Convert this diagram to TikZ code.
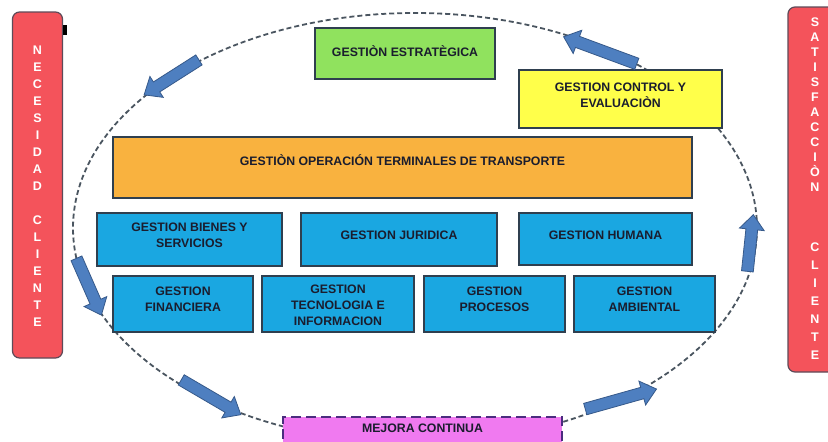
\documentclass[tikz,border=0pt]{standalone}
\usepackage{fontspec}
\setmainfont{Liberation Sans}
\usetikzlibrary{shapes.arrows}
\definecolor{barred}{HTML}{F4535B}
\definecolor{barline}{HTML}{5E4A58}
\definecolor{boxline}{HTML}{2F3F4F}
\definecolor{boxtext}{HTML}{1A1D2E}
\definecolor{greenbox}{HTML}{90E25E}
\definecolor{yellowbox}{HTML}{FFFF4A}
\definecolor{orangebox}{HTML}{F9B23F}
\definecolor{bluebox}{HTML}{1AA7E1}
\definecolor{pinkbox}{HTML}{F07AF0}
\definecolor{pinkline}{HTML}{4B2C7F}
\definecolor{arrowfill}{HTML}{4E7FC0}
\definecolor{arrowline}{HTML}{36598A}
\definecolor{ringline}{HTML}{4A5560}
\begin{document}
\begin{tikzpicture}[x=1pt,y=-1pt,
  box/.style={draw=boxline, line width=1.3pt, inner sep=0pt},
  lbl/.style={align=center, text=boxtext, font=\fontsize{12.3}{16}\selectfont\bfseries, inner sep=0pt},
  bar/.style={draw=barline, fill=barred, rounded corners=7pt, line width=1.2pt, inner sep=0pt},
  barletter/.style={text=white, font=\fontsize{12.5}{14}\selectfont\bfseries, inner sep=0pt, text height=9pt, text depth=0pt},
  blk/.style={single arrow, draw=arrowline, fill=arrowfill, line width=0.8pt, inner sep=5.5pt,
    single arrow head extend=6.5pt, single arrow tip angle=80}
]
\clip (0,0) rectangle (828,442);
\fill[white] (0,0) rectangle (828,442);

% side bars
\node[bar, minimum width=50pt, minimum height=346pt] (necesidad) at (37.5,185) {};
\node[bar, minimum width=62pt, minimum height=365pt] (satisfaccion) at (819,189.5) {};
\fill[black] (63,25) rectangle (67,35);
\foreach \l/\y [count=\i] in {N/50,E/67,C/84,E/101,S/118,I/135,D/152,A/169,D/186,C/220,L/237,I/254,E/271,N/288,T/305,E/322}
  \node[barletter] (nl\i) at (37.5,\y) {\l};
\foreach \l/\y [count=\i] in {S/22,A/37,T/52,I/67,S/82,F/97,A/112,C/127,C/142,I/157,Ò/172,N/187,C/247,L/265,I/283,E/301,N/319,T/337,E/355}
  \node[barletter] (sl\i) at (815,\y) {\l};

% dashed ring
\draw[ringline, line width=1.8pt, dash pattern=on 5pt off 3pt] (415,228) ellipse [x radius=342pt, y radius=215pt];

% boxes
\node[box, fill=greenbox, minimum width=180pt, minimum height=51pt] (strat) at (405,53.5) {};
\node[lbl] (tstrat) at ([yshift=2.5pt]strat.center) {GESTIÒN ESTRATÈGICA};

\node[box, fill=yellowbox, minimum width=203pt, minimum height=58pt] (control) at (620.5,99) {};
\node[lbl] (tcontrol) at ([yshift=4pt]control.center) {GESTION CONTROL Y\\EVALUACIÒN};

\node[box, fill=orangebox, minimum width=579pt, minimum height=61pt] (oper) at (402.5,167.5) {};
\node[lbl] (toper) at ([yshift=7pt]oper.center) {GESTIÒN OPERACIÓN TERMINALES DE TRANSPORTE};

\node[box, fill=bluebox, minimum width=185pt, minimum height=53pt] (bienes) at (189.5,239.5) {};
\node[lbl] (tbienes) at ([yshift=4.5pt]bienes.center) {GESTION BIENES Y\\SERVICIOS};
\node[box, fill=bluebox, minimum width=196pt, minimum height=53pt] (juridica) at (399,239.5) {};
\node[lbl] (tjuridica) at ([yshift=4.5pt]juridica.center) {GESTION JURIDICA};
\node[box, fill=bluebox, minimum width=173pt, minimum height=52pt] (humana) at (605.5,239) {};
\node[lbl] (thumana) at ([yshift=4pt]humana.center) {GESTION HUMANA};

\node[box, fill=bluebox, minimum width=140pt, minimum height=56pt] (financiera) at (183,304) {};
\node[lbl] (tfinanciera) at ([yshift=4.5pt]financiera.center) {GESTION\\FINANCIERA};
\node[box, fill=bluebox, minimum width=152pt, minimum height=56pt] (tecnologia) at (338,304) {};
\node[lbl] (ttecnologia) at ([yshift=-1pt]tecnologia.center) {GESTION\\TECNOLOGIA E\\INFORMACION};
\node[box, fill=bluebox, minimum width=141pt, minimum height=56pt] (procesos) at (494.5,304) {};
\node[lbl] (tprocesos) at ([yshift=4.5pt]procesos.center) {GESTION\\PROCESOS};
\node[box, fill=bluebox, minimum width=141pt, minimum height=56pt] (ambiental) at (644.5,304) {};
\node[lbl] (tambiental) at ([yshift=4.5pt]ambiental.center) {GESTION\\AMBIENTAL};

\node[draw=pinkline, fill=pinkbox, line width=2.2pt, dash pattern=on 10pt off 5pt, minimum width=279pt, minimum height=30pt, inner sep=0pt] (mejora) at (422.5,432) {};
\node[lbl] (tmejora) at ([yshift=3.5pt]mejora.center) {MEJORA CONTINUA};

% block arrows on the ring
\node[blk, minimum height=65pt, rotate=212.5] (a1) at (174.5,75.5) {};
\node[blk, minimum height=78pt, rotate=159.7] (a2) at (603.5,51.5) {};
\node[blk, minimum height=62pt, rotate=-66.3] (a3) at (87.5,283.5) {};
\node[blk, minimum height=69pt, rotate=-30.3] (a4) at (208,395.5) {};
\node[blk, minimum height=74pt, rotate=15.7] (a5) at (617.5,400) {};
\node[blk, minimum height=57pt, rotate=84] (a6) at (750,246.5) {};
\end{tikzpicture}
\end{document}
